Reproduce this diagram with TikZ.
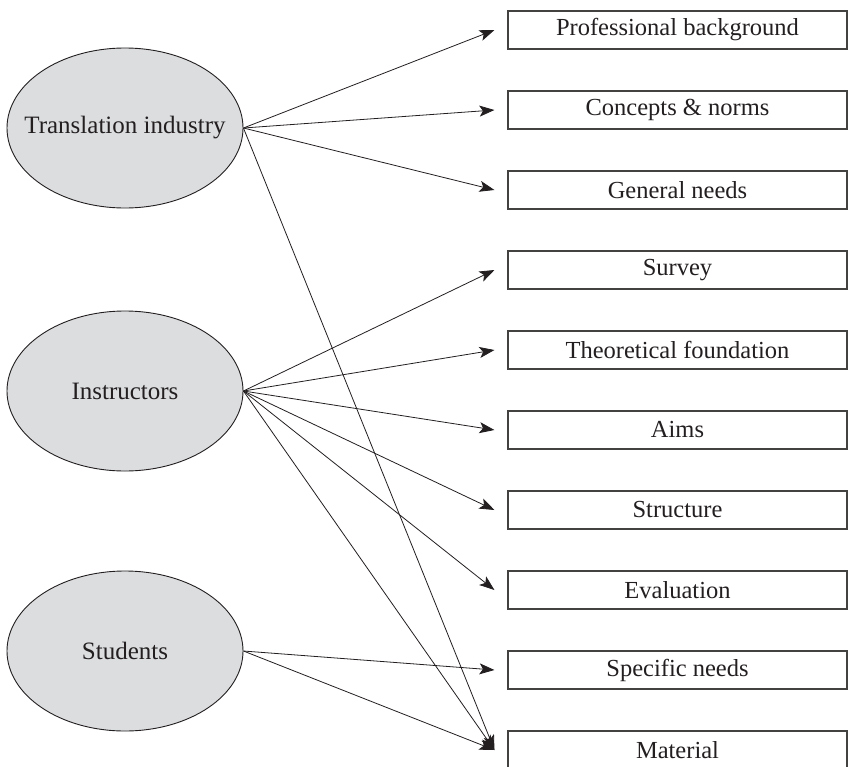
\documentclass[tikz,border=0pt]{standalone}
\usepackage{fontspec}
\setmainfont{Liberation Serif}
\usetikzlibrary{arrows.meta,shapes.geometric}
\definecolor{ink}{RGB}{35,31,32}
\definecolor{ellfill}{RGB}{220,221,223}
\begin{document}
\begin{tikzpicture}[x=1pt,y=-1pt,
  actor/.style={ellipse,draw=ink,line width=0.9pt,fill=ellfill,minimum width=236pt,minimum height=160pt,inner sep=0pt,
     label={[font=\fontsize{25}{29}\selectfont,text=ink]center:#1}},
  item/.style={rectangle,draw=ink!85,line width=1.1pt,minimum width=339pt,minimum height=38pt,inner sep=0pt,font=\fontsize{24.5}{28}\selectfont,text=ink},
  link/.style={draw=ink,line width=0.8pt,-{Stealth[length=15pt,width=11pt,inset=3.5pt]}}]
\useasboundingbox (0,0) rectangle (849,766);
\clip (0,0) rectangle (849,766);
\node[actor={Translation industry}] (ti) at (125,128) {};
\node[actor={Instructors}] (in) at (125,391) {};
\node[actor={Students}] (st) at (125,651) {};
\foreach \n/\t [count=\i from 0] in {pb/Professional background,cn/Concepts \& norms,gn/General needs,sv/Survey,tf/Theoretical foundation,am/Aims,sr/Structure,ev/Evaluation,sn/Specific needs,mt/Material}{
  \node[item] (\n) at (677.5,{30+80*\i}) {\t};
  \coordinate (\n-t) at ([xshift=-13pt]\n.west);
}
\foreach \b in {pb,cn,gn,mt} \draw[link] (ti.east) -- (\b-t);
\foreach \b in {sv,tf,am,sr,ev,mt} \draw[link] (in.east) -- (\b-t);
\foreach \b in {sn,mt} \draw[link] (st.east) -- (\b-t);
\end{tikzpicture}
\end{document}
